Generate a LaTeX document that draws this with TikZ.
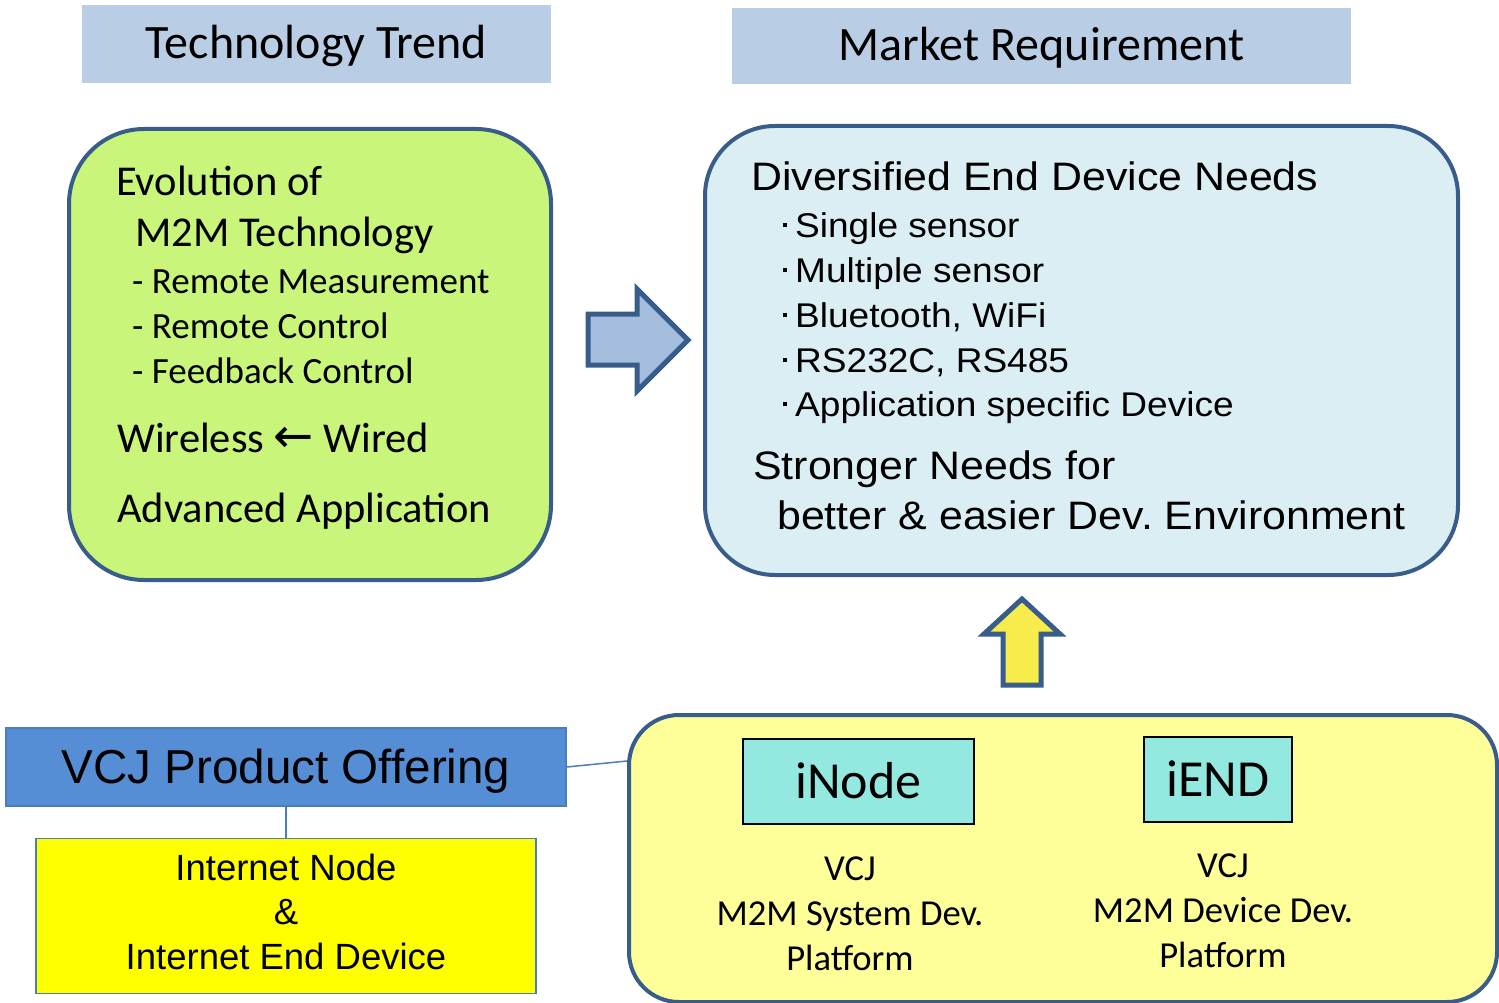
\documentclass[tikz,border=0pt]{standalone}
\usepackage{fontspec}
\setmainfont{Carlito}
\newfontfamily\arialfont{Liberation Sans}
\newfontfamily\arialwide[FakeStretch=1.08]{Liberation Sans}
\newfontfamily\symfont{DejaVu Sans}
\frenchspacing

\definecolor{hdrblue}{RGB}{185,205,229}
\definecolor{bordblue}{RGB}{56,93,138}
\definecolor{techgreen}{RGB}{201,245,123}
\definecolor{needblue}{RGB}{219,238,244}
\definecolor{platyellow}{RGB}{255,255,153}
\definecolor{arrowblue}{RGB}{165,190,221}
\definecolor{arrowyellow}{RGB}{247,236,75}
\definecolor{offerblue}{RGB}{85,142,213}
\definecolor{offerline}{RGB}{74,126,187}
\definecolor{nodecyan}{RGB}{147,232,224}
\definecolor{pureyellow}{RGB}{255,255,0}

\tikzset{
  header/.style={fill=hdrblue,inner sep=0pt,text height=30pt,text depth=0pt,
    font=\fontsize{48}{56}\selectfont},
  bigbox/.style={draw=bordblue,line width=4pt,inner sep=0pt},
  line/.style={anchor=base west,inner sep=0pt},
  bigtext/.style={line,font=\fontsize{42.5}{50}\selectfont},
  subtext/.style={line,font=\fontsize{37}{44}\selectfont},
  needtext/.style={line,font=\arialwide\fontsize{39.7}{48}\selectfont},
  itemtext/.style={line,font=\arialwide\fontsize{34.3}{42}\selectfont},
  blockarrow/.style={draw=bordblue,line width=5pt,line join=miter},
  prodbox/.style={draw=black,line width=1.5pt,fill=nodecyan,inner sep=0pt,
    text height=33pt,text depth=0pt,font=\fontsize{52}{60}\selectfont},
  plabel/.style={anchor=base,inner sep=0pt,font=\fontsize{36.6}{45}\selectfont},
  conn/.style={draw=offerline,line width=1.5pt}
}
\newcommand{\itemdot}{\rule[10pt]{4pt}{4pt}\hspace{8pt}}

\begin{document}
\begin{tikzpicture}[x=1pt,y=-1pt]
  \useasboundingbox (0,0) rectangle (1499,1003);

  % headers
  \node[header,minimum width=469pt,minimum height=78pt] (trend) at (316.5,44) {Technology Trend};
  \node[header,minimum width=619pt,minimum height=76pt] (market) at (1041.5,46) {Market Requirement};

  % rounded boxes
  \node[bigbox,fill=techgreen,minimum width=482pt,minimum height=451pt,rounded corners=75pt] (tech) at (310,354.5) {};
  \node[bigbox,fill=needblue,minimum width=753pt,minimum height=449pt,rounded corners=70pt] (needs) at (1081.5,350.5) {};
  \node[bigbox,fill=platyellow,minimum width=868pt,minimum height=287pt,rounded corners=50pt] (plat) at (1063,858.5) {};

  % technology trend text
  \node[bigtext] (evo) at (116,196) {Evolution of};
  \node[bigtext] (evom) at (135,247) {M2M Technology};
  \node[subtext] (rmeas) at (132,293) {- Remote Measurement};
  \node[subtext] (rctrl) at (132,338) {- Remote Control};
  \node[subtext] (fctrl) at (132,383) {- Feedback Control};
  \node[bigtext] (wire) at (117,452) {Wireless {\symfont\fontsize{48}{52}\selectfont ←} Wired};
  \node[bigtext] (adv) at (117,522) {Advanced Application};

  % market requirement text
  \node[needtext] (div) at (751,191) {Diversified End Device Needs};
  \node[itemtext] (single) at (783,237) {\itemdot Single sensor};
  \node[itemtext] (multi) at (783,282) {\itemdot Multiple sensor};
  \node[itemtext] (bt) at (783,327) {\itemdot Bluetooth, WiFi};
  \node[itemtext] (rs) at (783,372) {\itemdot RS232C, RS485};
  \node[itemtext] (appdev) at (783,416) {\itemdot Application specific Device};
  \node[needtext] (strong) at (753,479) {Stronger Needs for};
  \node[needtext] (better) at (777,529) {better \& easier Dev. Environment};

  % block arrows
  \draw[blockarrow,fill=arrowblue] (588,314) -- (637,314) -- (637,289) -- (688,340)
    -- (637,391) -- (637,365) -- (588,365) -- cycle;
  \draw[blockarrow,fill=arrowyellow] (1003,685) -- (1003,634) -- (984,634) -- (1022,599)
    -- (1060,634) -- (1041,634) -- (1041,685) -- cycle;

  % product offering
  \node[draw=offerline,fill=offerblue,line width=1.5pt,minimum width=560pt,minimum height=78pt,
    inner sep=0pt,text height=33pt,text depth=0pt,font=\arialfont\fontsize{47.6}{56}\selectfont]
    (vcj) at (286,767) {VCJ Product Offering};
  \node[draw=offerline,fill=pureyellow,line width=1.5pt,minimum width=500pt,minimum height=155pt,
    inner sep=0pt,font=\arialfont\fontsize{36.5}{44.5}\selectfont] (ine) at (286,916) {%
    \begin{tabular}{c}
      Internet Node\\
      \&\\
      Internet End Device
    \end{tabular}};
  \draw[conn] (vcj.south) -- (ine.north);
  \draw[conn] (vcj.east) -- ([yshift=6pt]vcj.east -| plat.west);

  % platform products
  \node[prodbox,minimum width=231pt,minimum height=85pt] (inode) at (858.5,781.5) {iNode};
  \node[prodbox,minimum width=148pt,minimum height=85pt] (iend) at (1218,779.5) {iEND};
  \node[plabel] (sysdev) at (850,880) {\begin{tabular}[t]{c}VCJ\\M2M System Dev.\\Platform\end{tabular}};
  \node[plabel] (devdev) at (1223,877) {\begin{tabular}[t]{c}VCJ\\M2M Device Dev.\\Platform\end{tabular}};
\end{tikzpicture}
\end{document}
